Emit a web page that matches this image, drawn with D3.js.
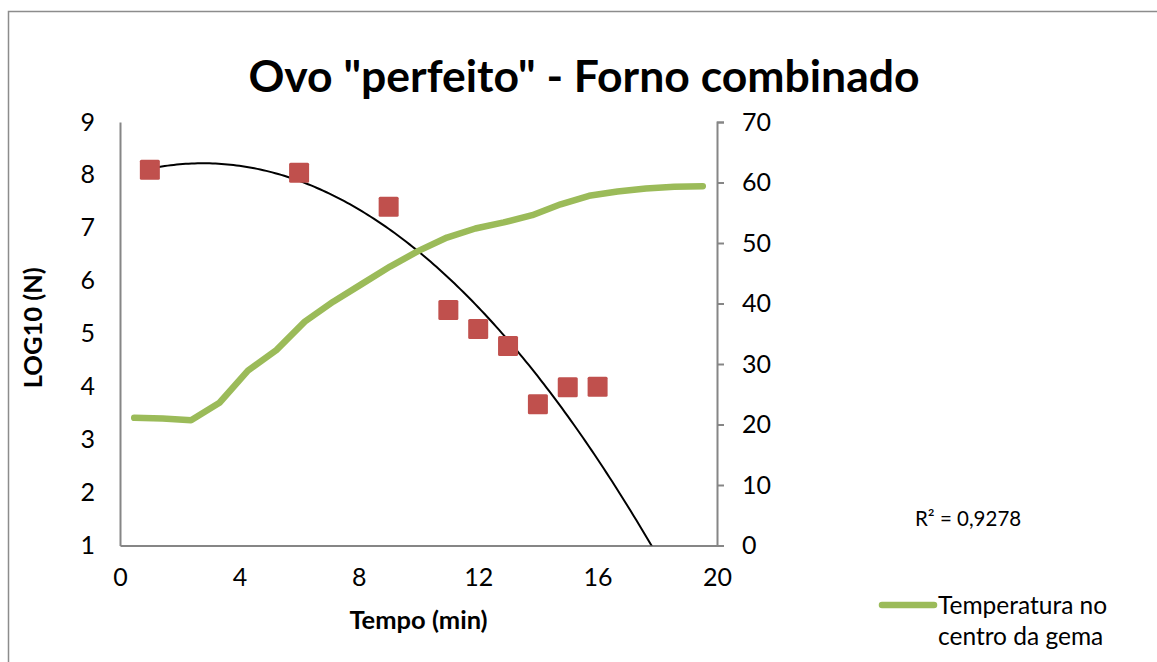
<!DOCTYPE html>
<html>
<head>
<meta charset="utf-8">
<script src="https://cdn.jsdelivr.net/npm/d3@7"></script>
<style>
  body { margin: 0; background: #fff; }
  text { font-family: Lato, "Open Sans", sans-serif; fill: #000; }
  .axis-text { font-size: 25px; }
  .legend-text { font-size: 24.5px; }
  .r2-text { font-size: 20.5px; }
  .label-text { font-size: 25.5px; font-weight: bold; }
  .title-text { font-size: 44.5px; font-weight: bold; }
</style>
</head>
<body>
<div id="chart"></div>
<script>
// scatter: LOG10(N) vs time
const tempoMin = [1, 6, 9, 11, 12, 13, 14, 15, 16];
const logN = [8.10, 8.04, 7.40, 5.45, 5.09, 4.77, 3.67, 3.99, 4.00];

// temperature in yolk centre, one value per minute (0..20)
const minutos = d3.range(0, 21).map(String);
const temperatura = [21.1, 21.0, 20.7, 23.6, 28.9, 32.3, 37.0, 40.3, 43.2, 46.1, 48.7,
  50.9, 52.4, 53.4, 54.6, 56.4, 57.8, 58.5, 59.0, 59.3, 59.4];

// polynomial trendline (order 2)
const trendCoef = { a: -0.032, b: 0.178, c: 7.973 };
const r2Label = "R² = 0,9278";

const xTicks = [0, 4, 8, 12, 16, 20];
const yLeftTicks = [1, 2, 3, 4, 5, 6, 7, 8, 9];
const yRightTicks = [0, 10, 20, 30, 40, 50, 60, 70];

const W = 1157, H = 662;
const plot = { left: 120, right: 717, top: 122, bottom: 545.5 };

const svg = d3.select("#chart").append("svg")
  .attr("width", W)
  .attr("height", H);

// outer frame
svg.append("rect")
  .attr("x", 8.5).attr("y", 11.5)
  .attr("width", 1170).attr("height", 700)
  .attr("fill", "#fff")
  .attr("stroke", "#8c8c8c")
  .attr("stroke-width", 1.5);

const x = d3.scaleLinear().domain([0, 20]).range([plot.left, plot.right]);
const yL = d3.scaleLinear().domain([1, 9]).range([plot.bottom, plot.top]);
const yR = d3.scaleLinear().domain([0, 70]).range([plot.bottom, plot.top]);
const xCat = d3.scaleBand().domain(minutos).range([plot.left, plot.right]);

svg.append("defs").append("clipPath").attr("id", "plot-clip")
  .append("rect")
  .attr("x", plot.left).attr("y", plot.top)
  .attr("width", plot.right - plot.left)
  .attr("height", plot.bottom - plot.top);

// axes
const axisColor = "#868686";

const gx = svg.append("g")
  .attr("transform", `translate(0,${plot.bottom})`)
  .call(d3.axisBottom(x).tickValues(xTicks).tickSize(0).tickPadding(23));
gx.select(".domain").attr("stroke", axisColor).attr("stroke-width", 2);
gx.selectAll("text").attr("class", "axis-text");

const gl = svg.append("g")
  .attr("transform", `translate(${plot.left},0)`)
  .call(d3.axisLeft(yL).tickValues(yLeftTicks).tickSize(0).tickPadding(25));
gl.select(".domain").attr("stroke", axisColor).attr("stroke-width", 2);
gl.selectAll("text").attr("class", "axis-text");

const gr = svg.append("g")
  .attr("transform", `translate(${plot.right},0)`)
  .call(d3.axisRight(yR).tickValues(yRightTicks).tickSize(7).tickSizeOuter(7).tickPadding(18));
gr.select(".domain").attr("stroke", axisColor).attr("stroke-width", 2);
gr.selectAll(".tick line").attr("stroke", axisColor).attr("stroke-width", 2);
gr.selectAll("text").attr("class", "axis-text");

const gPlot = svg.append("g").attr("clip-path", "url(#plot-clip)");

// temperature line (secondary axis)
const tempLine = d3.line()
  .x((d, i) => xCat(minutos[i]) + xCat.bandwidth() / 2)
  .y(d => yR(d));

svg.append("path")
  .datum(temperatura)
  .attr("d", tempLine)
  .attr("fill", "none")
  .attr("stroke", "#9BBB59")
  .attr("stroke-width", 6.5)
  .attr("stroke-linejoin", "round")
  .attr("stroke-linecap", "round");

// scatter squares
const sq = 20;
svg.selectAll(".pt")
  .data(tempoMin)
  .enter().append("rect")
  .attr("class", "pt")
  .attr("x", d => x(d) - sq / 2)
  .attr("y", (d, i) => yL(logN[i]) - sq / 2)
  .attr("width", sq).attr("height", sq)
  .attr("rx", 1.5)
  .attr("fill", "#C0504D");

// trendline
const trendX = d3.range(1, 18.5, 0.1);
gPlot.append("path")
  .datum(trendX)
  .attr("d", d3.line()
    .x(d => x(d))
    .y(d => yL(trendCoef.a * d * d + trendCoef.b * d + trendCoef.c)))
  .attr("fill", "none")
  .attr("stroke", "#000")
  .attr("stroke-width", 2);

// title
svg.append("text")
  .attr("class", "title-text")
  .attr("x", 584).attr("y", 92)
  .attr("text-anchor", "middle")
  .text('Ovo "perfeito" - Forno combinado');

// axis titles
svg.append("text")
  .attr("class", "label-text")
  .attr("x", (plot.left + plot.right) / 2).attr("y", 629)
  .attr("text-anchor", "middle")
  .text("Tempo (min)");

svg.append("text")
  .attr("class", "label-text")
  .attr("transform", `translate(42,${(plot.top + plot.bottom) / 2 - 6}) rotate(-90)`)
  .attr("text-anchor", "middle")
  .text("LOG10 (N)");

// R² label
svg.append("text")
  .attr("class", "r2-text")
  .attr("x", 915).attr("y", 526)
  .text(r2Label);

// legend
svg.append("line")
  .attr("x1", 882).attr("x2", 934)
  .attr("y1", 605).attr("y2", 605)
  .attr("stroke", "#9BBB59")
  .attr("stroke-width", 6.5)
  .attr("stroke-linecap", "round");

const leg = svg.append("text")
  .attr("class", "legend-text")
  .attr("x", 938).attr("y", 614);
leg.append("tspan").attr("x", 938).text("Temperatura no");
leg.append("tspan").attr("x", 938).attr("dy", 31).text("centro da gema");
</script>
</body>
</html>
